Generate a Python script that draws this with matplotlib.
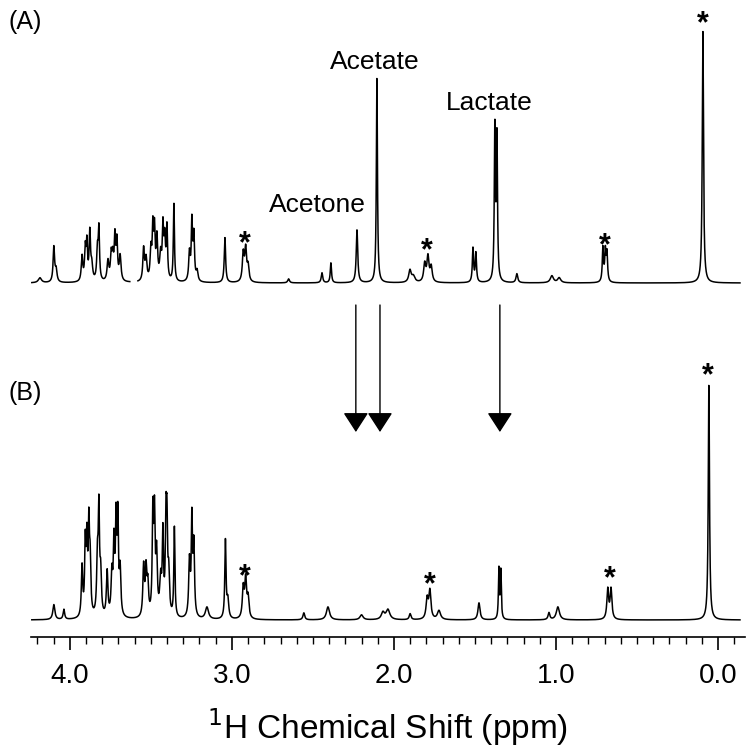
import numpy as np
import matplotlib.pyplot as plt

# peak tables: position (ppm), height, line width (ppm)
a_ppm = [4.185, 4.099, 4.085, 3.925, 3.905, 3.895, 3.877, 3.865, 3.830, 3.821,
         3.765, 3.745, 3.735, 3.722, 3.710, 3.690,
         3.545, 3.530, 3.500, 3.488, 3.478, 3.463, 3.440, 3.426, 3.415, 3.401,
         3.358, 3.262, 3.247, 3.235, 3.215, 3.043, 2.930, 2.915, 2.900,
         2.650, 2.444, 2.389, 2.228, 2.105, 1.901, 1.880, 1.810, 1.790, 1.770,
         1.512, 1.494, 1.377, 1.364, 1.241, 1.025, 0.980,
         0.710, 0.695, 0.685, 0.093]
a_height = [5, 35, 12, 25, 32, 36, 48, 15, 30, 50,
            20, 25, 22, 42, 38, 25,
            32, 22, 30, 50, 48, 42, 25, 50, 40, 52,
            78, 28, 58, 45, 10, 45, 28, 32, 15,
            4, 10, 20, 53, 205, 12, 6, 18, 25, 15,
            34, 29, 152, 142, 9, 7, 5,
            34, 30, 28, 252]
a_width = [0.02, 0.008, 0.01, 0.008, 0.007, 0.006, 0.007, 0.01, 0.008, 0.006,
           0.01, 0.008, 0.008, 0.007, 0.007, 0.01,
           0.008, 0.01, 0.008, 0.006, 0.006, 0.008, 0.01, 0.006, 0.008, 0.006,
           0.005, 0.008, 0.006, 0.007, 0.01, 0.007, 0.01, 0.01, 0.01,
           0.01, 0.008, 0.006, 0.008, 0.005, 0.015, 0.02, 0.012, 0.012, 0.012,
           0.006, 0.006, 0.005, 0.005, 0.01, 0.02, 0.02,
           0.006, 0.006, 0.006, 0.006]
a_gap = (3.630, 3.580)   # region cut out of spectrum A

b_ppm = [4.099, 4.037, 3.925, 3.905, 3.895, 3.883, 3.875, 3.830, 3.821, 3.810,
         3.770, 3.741, 3.728, 3.715, 3.704, 3.690,
         3.545, 3.530, 3.519, 3.488, 3.478, 3.465, 3.440, 3.426, 3.407, 3.401,
         3.390, 3.355, 3.262, 3.247, 3.235, 3.154, 3.040, 3.025,
         2.930, 2.915, 2.900, 2.556, 2.407, 2.200, 2.068, 2.037, 1.900,
         1.795, 1.778, 1.722, 1.475, 1.352, 1.340, 1.043, 0.988,
         0.680, 0.660, 0.056]
b_height = [15, 10, 50, 70, 70, 85, 50, 55, 100, 40,
            45, 40, 70, 90, 95, 45,
            50, 45, 30, 100, 95, 60, 35, 80, 85, 80,
            40, 90, 55, 95, 70, 12, 78, 18,
            30, 38, 20, 7, 13, 5, 7, 10, 6,
            20, 28, 9, 17, 50, 48, 7, 13,
            30, 30, 236]
b_width = [0.012, 0.008, 0.007, 0.006, 0.006, 0.006, 0.007, 0.008, 0.006, 0.008,
           0.008, 0.008, 0.007, 0.006, 0.006, 0.008,
           0.008, 0.008, 0.008, 0.006, 0.006, 0.008, 0.01, 0.006, 0.006, 0.006,
           0.008, 0.005, 0.008, 0.006, 0.007, 0.02, 0.006, 0.01,
           0.01, 0.01, 0.01, 0.01, 0.02, 0.02, 0.02, 0.025, 0.01,
           0.012, 0.012, 0.02, 0.012, 0.004, 0.004, 0.01, 0.02,
           0.01, 0.01, 0.006]

# annotations
metab_names = ['Acetate', 'Acetone', 'Lactate']
metab_pos = [(2.12, 558), (2.47, 415), (1.41, 517)]
star_a = [(2.92, 376), (1.80, 369), (0.70, 374), (0.095, 596)]
star_b = [(2.92, 43), (1.78, 35), (0.67, 41), (0.06, 244)]
arrow_ppm = [2.235, 2.086, 1.346]

offset_a = 337   # vertical offset of trace A
lb = 0.003       # extra line broadening (ppm)


def spectrum(x, pos, h, w):
    y = np.zeros_like(x)
    for p, hh, ww in zip(pos, h, w):
        g = (ww + lb) / 2
        y += hh * g**2 / ((x - p)**2 + g**2)
    return y


x = np.linspace(4.235, -0.136, 6000)
ya = spectrum(x, a_ppm, a_height, a_width)
ya[(x < a_gap[0]) & (x > a_gap[1])] = np.nan
yb = spectrum(x, b_ppm, b_height, b_width)

plt.rcParams['font.family'] = ['Liberation Sans', 'DejaVu Sans']

fig = plt.figure(figsize=(7.5, 7.55), dpi=100)
ax = fig.add_axes([31 / 750, 118 / 755, 714 / 750, 637 / 755])
ax.plot(x, ya + offset_a, color='k', lw=1.1)
ax.plot(x, yb, color='k', lw=1.1)
ax.set_xlim(4.24, -0.167)
ax.set_ylim(-17, 620)

for s in ['top', 'left', 'right']:
    ax.spines[s].set_visible(False)
ax.spines['bottom'].set_linewidth(1.2)
ax.set_yticks([])
ax.set_xticks([4.0, 3.0, 2.0, 1.0, 0.0])
ax.set_xticklabels(['4.0', '3.0', '2.0', '1.0', '0.0'], fontsize=20)
ax.set_xticks(np.arange(-0.1, 4.25, 0.1), minor=True)
ax.tick_params(axis='x', which='major', length=9, width=1.2, pad=10)
ax.tick_params(axis='x', which='minor', length=5, width=1.0)
ax.set_xlabel('$^{1}$H Chemical Shift (ppm)', fontsize=24, labelpad=12)

for name, (px, py) in zip(metab_names, metab_pos):
    ax.text(px, py, name, fontsize=19, ha='center', va='center')
for px, py in star_a + star_b:
    ax.text(px, py, '*', fontsize=22, fontweight='bold', ha='center', va='center')

for p in arrow_ppm:
    ax.annotate('', xy=(p, 188), xytext=(p, 315),
                arrowprops=dict(arrowstyle='-|>,head_length=1.22,head_width=0.79',
                                mutation_scale=10, color='k', lw=1.0,
                                shrinkA=0, shrinkB=0))

fig.text(8 / 750, 1 - 22 / 755, '(A)', fontsize=18, va='center')
fig.text(8 / 750, 1 - 393 / 755, '(B)', fontsize=18, va='center')

fig.savefig('out.png', dpi=100)
